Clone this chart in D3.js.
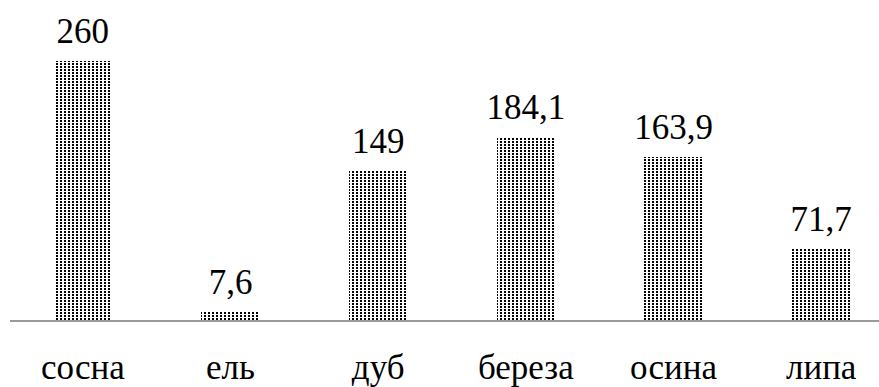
<!DOCTYPE html>
<html><head><meta charset="utf-8">
<script src="https://cdn.jsdelivr.net/npm/d3@7"></script>
<style>
body{margin:0;background:#fff}
svg{display:block}
</style>
</head><body>
<script>
const categories = ["сосна","ель","дуб","береза","осина","липа"];
const values = [260, 7.6, 149, 184.1, 163.9, 71.7];
const valueLabels = ["260","7,6","149","184,1","163,9","71,7"];

const W = 879, H = 387;
const FONT = '"Liberation Serif","Tinos","Times New Roman",serif';
const svg = d3.select("body").append("svg").attr("width", W).attr("height", H);
const defs = svg.append("defs");
const pat = defs.append("pattern").attr("id","dots").attr("patternUnits","userSpaceOnUse")
  .attr("width",4).attr("height",3);
pat.append("rect").attr("x",0).attr("y",0).attr("width",2).attr("height",2).attr("fill","#000");

const x = d3.scaleBand().domain(categories).range([9, 895]).paddingInner(0.607).paddingOuter(0.3035);
const y = d3.scaleLinear().domain([0, 300]).range([320, 21]);

svg.selectAll("rect.bar").data(values).enter().append("rect")
  .attr("class","bar")
  .attr("x",(d,i)=>Math.round(x(categories[i])))
  .attr("y",d=>Math.round(y(d)))
  .attr("width",Math.round(x.bandwidth()))
  .attr("height",d=>Math.round(y(0))-Math.round(y(d)))
  .attr("fill","url(#dots)");

svg.append("line").attr("x1",10).attr("x2",W).attr("y1",y(0)+1).attr("y2",y(0)+1)
  .attr("stroke","#9a9a9a").attr("stroke-width",2);

svg.selectAll("text.val").data(values).enter().append("text")
  .attr("class","val")
  .attr("x",(d,i)=>x(categories[i])+x.bandwidth()/2)
  .attr("y",d=>y(d)-18)
  .attr("text-anchor","middle")
  .style("font-family",FONT).attr("font-size",35).attr("fill","#000")
  .text((d,i)=>valueLabels[i]);

const xAxis = d3.axisBottom(x).tickSize(0).tickPadding(0);
const g = svg.append("g").attr("transform",`translate(0,${y(0)})`).call(xAxis);
g.select(".domain").remove();
g.attr("font-family",null).attr("font-size",null);
g.selectAll("text").style("font-family",FONT).attr("font-size",35)
  .attr("fill","#000").attr("dy",null).attr("y",59);
</script>
</body></html>
